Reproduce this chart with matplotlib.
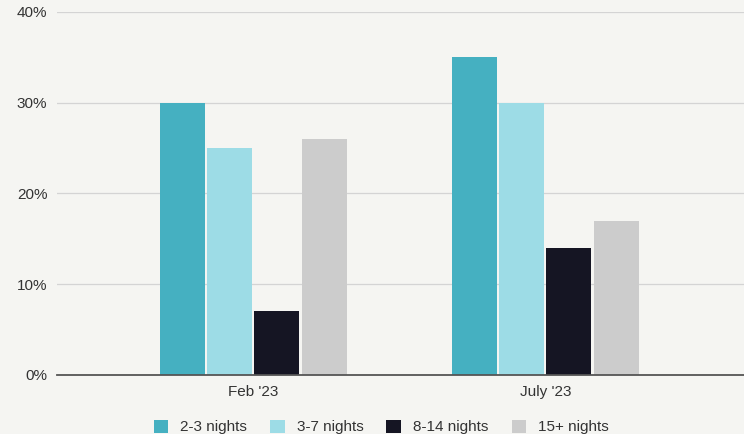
import numpy as np
import matplotlib
matplotlib.use("Agg")
import matplotlib.pyplot as plt
from matplotlib.ticker import FuncFormatter

periods = ["Feb '23", "July '23"]
stay_lengths = ["2-3 nights", "3-7 nights", "8-14 nights", "15+ nights"]
share_2_3 = [30, 35]
share_3_7 = [25, 30]
share_8_14 = [7, 14]
share_15_plus = [26, 17]

series = [share_2_3, share_3_7, share_8_14, share_15_plus]
colours = ["#45b0c1", "#9ddce6", "#151523", "#cccccc"]
bg = "#f5f5f2"

plt.rcParams["font.family"] = ["Liberation Sans", "DejaVu Sans"]

fig = plt.figure(figsize=(7.44, 4.34), dpi=100, facecolor=bg)
ax = fig.add_axes([57 / 744, 59 / 434, 687 / 744, 363 / 434], facecolor=bg)

x = np.arange(len(periods))
width = 0.154
step = 0.162
for i, (vals, label, c) in enumerate(zip(series, stay_lengths, colours)):
    ax.bar(x + (i - 1.5) * step, vals, width, color=c, label=label, zorder=3)

ax.set_ylim(0, 40)
ax.set_xlim(-0.671, 1.68)
ax.set_yticks([0, 10, 20, 30, 40])
ax.yaxis.set_major_formatter(FuncFormatter(lambda v, _: f"{v:.0f}%"))
ax.set_xticks(x)
ax.set_xticklabels(periods)
ax.grid(axis="y", color="#d4d4d4", linewidth=0.9, zorder=0)
for s in ["top", "right", "left"]:
    ax.spines[s].set_visible(False)
ax.spines["bottom"].set_color("#555555")
ax.spines["bottom"].set_linewidth(1.3)
ax.spines["bottom"].set_zorder(4)
ax.tick_params(axis="both", length=0, labelsize=11, colors="#333333")
ax.tick_params(axis="y", pad=7)
ax.tick_params(axis="x", pad=7)

ax.legend(loc="upper center", bbox_to_anchor=(0.472, -0.085), ncol=4,
          frameon=False, fontsize=11, handlelength=0.95, handleheight=0.95,
          columnspacing=1.5, handletextpad=0.8, labelcolor="#333333")

fig.savefig("out.png", dpi=100, facecolor=bg)
